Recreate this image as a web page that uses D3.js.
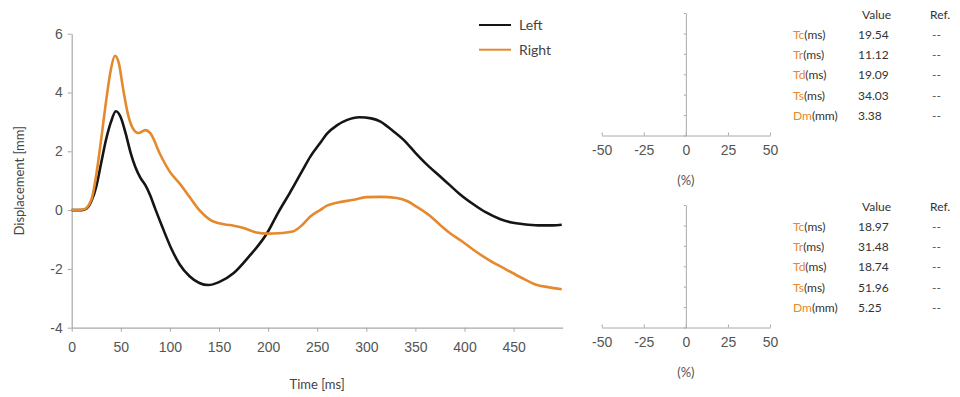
<!DOCTYPE html>
<html>
<head>
<meta charset="utf-8">
<script src="https://cdn.jsdelivr.net/npm/d3@7"></script>
<style>
  html, body { margin: 0; padding: 0; background: #fff; }
  svg { display: block; font-family: Lato, "Open Sans", sans-serif; }
  .axis path, .axis line { stroke: #a8a8a8; }
  .axis text { fill: #555; }
</style>
</head>
<body>
<svg id="chart" width="960" height="397"></svg>
<script>
// Displacement traces (time in ms, displacement in mm)
const leftTime  = [0, 10, 15, 20, 25, 30, 35, 40, 45, 50, 55, 60, 65, 70, 75, 80, 85, 92, 102, 110, 120, 130, 139, 150, 165, 180, 199, 210, 222, 235, 243, 253, 260, 270, 280, 293, 305, 314, 325, 338, 350, 362, 375, 385, 395, 409, 422, 436, 448, 460, 475, 490, 499];
const leftDisp  = [0, 0, 0.05, 0.3, 0.8, 1.6, 2.4, 3.0, 3.36, 3.15, 2.6, 1.95, 1.45, 1.1, 0.85, 0.5, 0.05, -0.55, -1.35, -1.85, -2.25, -2.48, -2.55, -2.45, -2.14, -1.6, -0.78, -0.1, 0.58, 1.35, 1.82, 2.28, 2.6, 2.88, 3.06, 3.16, 3.12, 3.02, 2.75, 2.39, 1.95, 1.54, 1.15, 0.85, 0.55, 0.2, -0.08, -0.3, -0.42, -0.48, -0.52, -0.52, -0.5];
const rightTime = [0, 12, 20, 25, 30, 35, 40, 44, 48, 52, 57, 62, 68, 75, 80, 90, 100, 110, 120, 130, 141, 155, 165, 175, 188, 200, 210, 225, 235, 243, 253, 260, 270, 287, 300, 315, 331, 342, 351, 365, 375, 385, 397, 409, 425, 443, 458, 473, 485, 499];
const rightDisp = [0, 0.02, 0.35, 1.2, 2.4, 3.7, 4.8, 5.25, 5.0, 4.2, 3.3, 2.8, 2.62, 2.72, 2.62, 1.9, 1.3, 0.9, 0.45, 0.0, -0.33, -0.48, -0.53, -0.61, -0.76, -0.8, -0.79, -0.73, -0.5, -0.22, 0.0, 0.15, 0.25, 0.35, 0.44, 0.45, 0.41, 0.3, 0.12, -0.2, -0.5, -0.78, -1.05, -1.35, -1.7, -2.03, -2.3, -2.54, -2.62, -2.69];

const seriesNames  = ["Left", "Right"];
const seriesColors = ["#151515", "#e5892e"];

const xTicks = [0, 50, 100, 150, 200, 250, 300, 350, 400, 450];
const yTicks = [-4, -2, 0, 2, 4, 6];
const pctTicks = [-50, -25, 0, 25, 50];

// Parameter tables, one per side
const paramNames = ["Tc", "Tr", "Td", "Ts", "Dm"];
const paramUnits = ["(ms)", "(ms)", "(ms)", "(ms)", "(mm)"];
const leftValues  = ["19.54", "11.12", "19.09", "34.03", "3.38"];
const rightValues = ["18.97", "31.48", "18.74", "51.96", "5.25"];
const refValues   = ["--", "--", "--", "--", "--"];

// plain hyphen for negative tick labels
const fmt = d => String(d);

const svg = d3.select("#chart");

// ---- main displacement plot ----
const x = d3.scaleLinear().domain([0, 500]).range([71.7, 562.7]);
const y = d3.scaleLinear().domain([-4, 6]).range([327.7, 33.7]);

svg.append("g").attr("class", "axis")
  .attr("transform", `translate(0,${y(-4)})`)
  .call(d3.axisBottom(x).tickValues(xTicks).tickFormat(fmt).tickSize(4).tickPadding(10).tickSizeOuter(0))
  .selectAll("text").style("font-size", "14px");

svg.append("g").attr("class", "axis")
  .attr("transform", `translate(${x(0)},0)`)
  .call(d3.axisLeft(y).tickValues(yTicks).tickFormat(fmt).tickSize(4).tickPadding(5).tickSizeOuter(0))
  .selectAll("text").style("font-size", "14px");

svg.selectAll(".axis path").attr("stroke-width", 1.2);

svg.append("text").attr("x", (x(0) + x(500)) / 2).attr("y", 389)
  .attr("text-anchor", "middle").attr("fill", "#444").style("font-size", "13px")
  .text("Time [ms]");
svg.append("text")
  .attr("transform", `translate(24,${(y(-4) + y(6)) / 2}) rotate(-90)`)
  .attr("text-anchor", "middle").attr("fill", "#444").style("font-size", "13px")
  .text("Displacement [mm]");

const line = d3.line().x(d => x(d[0])).y(d => y(d[1])).curve(d3.curveMonotoneX);
const series = [d3.zip(leftTime, leftDisp), d3.zip(rightTime, rightDisp)];

series.forEach((pts, i) => {
  svg.append("path").datum(pts)
    .attr("fill", "none").attr("stroke", seriesColors[i])
    .attr("stroke-width", 2.6).attr("stroke-linejoin", "round")
    .attr("d", line);
});

// legend
const legend = svg.append("g").attr("transform", "translate(479,25)");
seriesNames.forEach((name, i) => {
  const g = legend.append("g").attr("transform", `translate(0,${i * 24.7})`);
  g.append("line").attr("x1", 0).attr("x2", 32).attr("stroke", seriesColors[i]).attr("stroke-width", 2);
  g.append("text").attr("x", 40).attr("dy", "0.35em").attr("fill", "#444")
    .style("font-size", "14px").text(name);
});

// ---- symmetry panels with parameter tables ----
function panel(top, values) {
  const axisY = top + 122.5;
  const px = d3.scaleLinear().domain([-50, 50]).range([601.7, 770]);
  const py = d3.scaleLinear().domain([0, 6]).range([axisY, top]);

  svg.append("g").attr("class", "axis")
    .attr("transform", `translate(0,${axisY})`)
    .call(d3.axisBottom(px).tickValues(pctTicks).tickFormat(fmt).tickSizeInner(-3).tickSizeOuter(0).tickPadding(10))
    .selectAll("text").style("font-size", "14px");

  const vAxis = svg.append("g").attr("class", "axis")
    .attr("transform", `translate(${px(0)},0)`)
    .call(d3.axisLeft(py).ticks(6).tickSize(2).tickSizeOuter(0).tickFormat(""));
  vAxis.select(".domain").attr("stroke", "#555");

  svg.append("text").attr("x", px(0)).attr("y", axisY + 49)
    .attr("text-anchor", "middle").attr("fill", "#555").style("font-size", "13px")
    .text("(%)");

  const rowY0 = top + 22, rowStep = 20.2;
  svg.append("text").attr("x", 862).attr("y", top + 6).attr("fill", "#333")
    .style("font-size", "12px").text("Value");
  svg.append("text").attr("x", 930).attr("y", top + 6).attr("fill", "#333")
    .style("font-size", "12px").text("Ref.");

  paramNames.forEach((p, i) => {
    const ry = rowY0 + i * rowStep + 4;
    const t = svg.append("text").attr("x", 793).attr("y", ry).style("font-size", "12px");
    t.append("tspan").attr("fill", "#e5892e").text(p);
    t.append("tspan").attr("fill", "#333").text(paramUnits[i]);
    svg.append("text").attr("x", 858).attr("y", ry).attr("fill", "#333")
      .style("font-size", "12px").text(values[i]);
    svg.append("text").attr("x", 932).attr("y", ry).attr("fill", "#555")
      .style("font-size", "12px").text(refValues[i]);
  });
}

panel(13, leftValues);
panel(205, rightValues);
</script>
</body>
</html>
